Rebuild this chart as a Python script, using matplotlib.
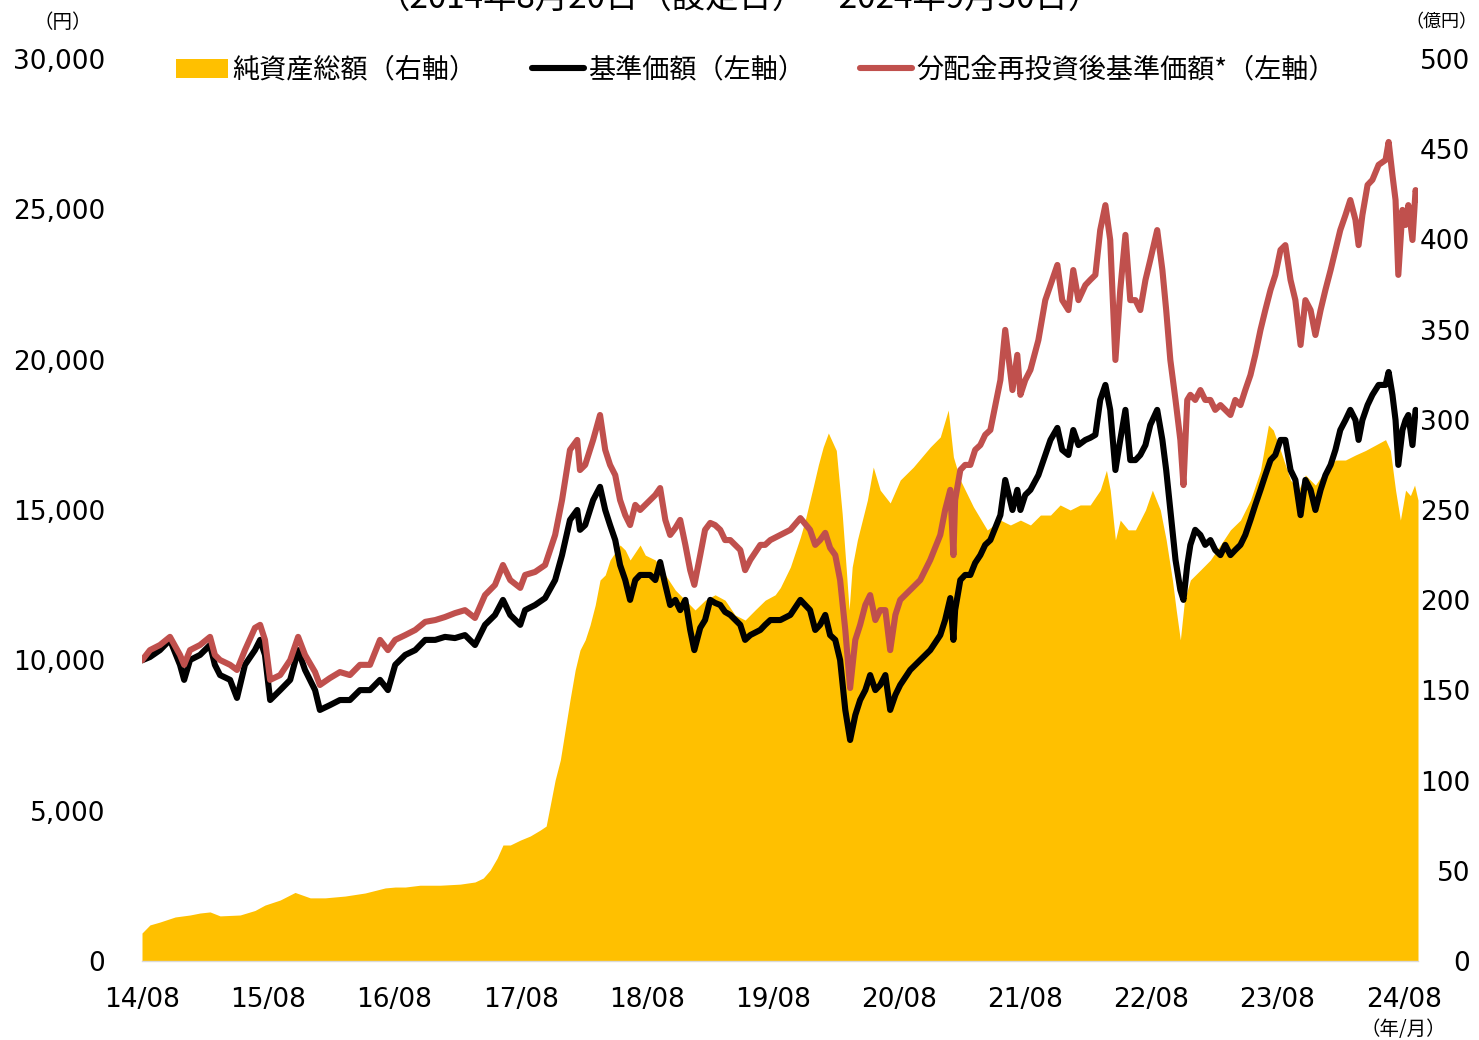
import matplotlib
matplotlib.use('Agg')
import matplotlib.pyplot as plt
from matplotlib.lines import Line2D
from matplotlib.patches import Patch
import pandas as pd

plt.rcParams['font.family'] = ['Noto Sans CJK JP', 'DejaVu Sans']

start = pd.Timestamp('2014-08-20')
end = pd.Timestamp('2024-09-30')

# 設定日からの経過日数（基準価額・分配金再投資後基準価額）
price_days = [
    0, 23, 52, 81, 110, 122, 139, 168, 197, 211,
    226, 255, 275, 298, 327, 342, 356, 371, 400, 429,
    452, 472, 501, 515, 544, 573, 602, 631, 660, 689,
    712, 733, 762, 791, 820, 849, 877, 906, 935, 964,
    993, 1022, 1045, 1066, 1095, 1109, 1138, 1167, 1196, 1216,
    1239, 1260, 1268, 1283, 1306, 1326, 1341, 1355, 1370, 1384,
    1399, 1413, 1428, 1442, 1471, 1486, 1500, 1515, 1529, 1544,
    1558, 1573, 1587, 1599, 1616, 1630, 1645, 1659, 1674, 1688,
    1703, 1732, 1746, 1761, 1790, 1804, 1819, 1848, 1877, 1906,
    1934, 1949, 1963, 1978, 1992, 2007, 2021, 2036, 2050, 2065,
    2079, 2094, 2108, 2123, 2137, 2152, 2166, 2181, 2195, 2224,
    2253, 2282, 2311, 2325, 2340, 2349, 2354, 2369, 2383, 2398,
    2412, 2427, 2441, 2456, 2485, 2499, 2520, 2534, 2543, 2557,
    2572, 2595, 2615, 2630, 2650, 2664, 2682, 2696, 2711, 2731,
    2745, 2760, 2774, 2789, 2803, 2818, 2832, 2847, 2861, 2876,
    2890, 2905, 2919, 2939, 2954, 2965, 2977, 2992, 3006, 3015,
    3026, 3035, 3049, 3064, 3078, 3093, 3107, 3122, 3136, 3151,
    3165, 3180, 3194, 3209, 3223, 3238, 3252, 3267, 3281, 3296,
    3310, 3325, 3339, 3354, 3368, 3383, 3397, 3412, 3426, 3441,
    3455, 3469, 3484, 3498, 3513, 3522, 3533, 3548, 3562, 3580,
    3600, 3609, 3620, 3629, 3637, 3649, 3658, 3666, 3678, 3687, 3694,
]

# 基準価額（円）
nav_price = [
    10000, 10110, 10340, 10680, 9850, 9350, 10010, 10180, 10510, 9850,
    9510, 9350, 8750, 9850, 10340, 10680, 10180, 8680, 9010, 9350,
    10340, 9680, 9010, 8350, 8510, 8680, 8680, 9010, 9010, 9350,
    9010, 9850, 10180, 10340, 10680, 10680, 10780, 10740, 10840, 10510,
    11180, 11510, 12010, 11510, 11180, 11670, 11840, 12070, 12670, 13500,
    14670, 15000, 14340, 14500, 15330, 15770, 15000, 14500, 14000, 13170,
    12670, 12010, 12670, 12840, 12840, 12670, 13270, 12510, 11840, 12010,
    11670, 12010, 11010, 10340, 11080, 11340, 12010, 11910, 11840, 11610,
    11510, 11180, 10680, 10840, 11010, 11180, 11340, 11340, 11510, 12010,
    11670, 11010, 11180, 11510, 10840, 10680, 10010, 8350, 7350, 8180,
    8680, 9010, 9510, 9010, 9180, 9510, 8350, 8850, 9180, 9680,
    10010, 10340, 10840, 11340, 12070, 10680, 11670, 12670, 12840, 12840,
    13240, 13500, 13840, 14000, 14830, 16000, 15000, 15670, 15000, 15500,
    15670, 16160, 16830, 17330, 17730, 17000, 16830, 17660, 17160, 17330,
    17400, 17500, 18660, 19160, 18330, 16330, 17330, 18330, 16660, 16660,
    16830, 17160, 17830, 18330, 17330, 16330, 15000, 13340, 12340, 12010,
    13170, 13840, 14340, 14170, 13840, 14000, 13670, 13500, 13840, 13500,
    13670, 13840, 14170, 14670, 15170, 15670, 16160, 16660, 16830, 17330,
    17330, 16330, 16000, 14830, 16000, 15670, 15000, 15670, 16160, 16500,
    17000, 17660, 17990, 18330, 17990, 17330, 17990, 18490, 18830, 19160,
    19160, 19590, 18830, 17990, 16500, 17660, 17990, 18160, 17160, 18330, 18160,
]

# 分配金再投資後基準価額（円）
reinvested = [
    10000, 10340, 10510, 10780, 10180, 9850, 10340, 10510, 10780, 10180,
    10010, 9850, 9680, 10340, 11080, 11180, 10680, 9350, 9510, 10010,
    10780, 10180, 9610, 9180, 9410, 9610, 9510, 9850, 9850, 10680,
    10340, 10680, 10840, 11010, 11280, 11340, 11440, 11570, 11670, 11410,
    12170, 12510, 13170, 12670, 12410, 12840, 12940, 13170, 14170, 15330,
    17000, 17330, 16330, 16500, 17330, 18160, 17000, 16500, 16160, 15330,
    14830, 14500, 15170, 15000, 15330, 15500, 15730, 14670, 14170, 14400,
    14670, 13840, 13000, 12510, 13500, 14340, 14570, 14500, 14340, 14000,
    14000, 13670, 13000, 13340, 13840, 13840, 14000, 14170, 14340, 14730,
    14340, 13840, 14000, 14240, 13740, 13500, 12670, 11010, 9080, 10680,
    11180, 11840, 12170, 11340, 11670, 11670, 10340, 11510, 12010, 12340,
    12670, 13340, 14170, 15000, 15670, 13500, 15330, 16330, 16500, 16500,
    17000, 17160, 17500, 17660, 19320, 20990, 18990, 20160, 18830, 19320,
    19660, 20650, 21980, 22480, 23150, 21980, 21650, 22980, 21980, 22480,
    22650, 22820, 24310, 25140, 23980, 19990, 22320, 24150, 21980, 21980,
    21650, 22650, 23320, 24310, 22980, 21650, 19990, 18660, 17330, 15830,
    18660, 18830, 18660, 18990, 18660, 18660, 18330, 18490, 18330, 18160,
    18660, 18490, 18990, 19490, 20160, 20990, 21650, 22320, 22820, 23650,
    23810, 22650, 21980, 20490, 21980, 21650, 20820, 21650, 22320, 22980,
    23650, 24310, 24810, 25310, 24650, 23810, 24810, 25810, 25980, 26480,
    26640, 27240, 26140, 25310, 22820, 24980, 24480, 25140, 23980, 25640, 25310,
]

# 純資産総額（億円）
asset_days = [
    0, 23, 52, 96, 139, 168, 197, 226, 284, 327,
    356, 400, 443, 487, 530, 588, 646, 704, 733, 762,
    805, 863, 921, 964, 988, 1008, 1028, 1045, 1066, 1095,
    1124, 1153, 1170, 1182, 1196, 1211, 1225, 1239, 1254, 1268,
    1283, 1297, 1312, 1326, 1341, 1355, 1384, 1399, 1413, 1442,
    1457, 1486, 1515, 1544, 1573, 1601, 1630, 1659, 1688, 1717,
    1746, 1775, 1804, 1833, 1848, 1877, 1906, 1920, 1943, 1958,
    1972, 1987, 2010, 2027, 2039, 2047, 2056, 2071, 2100, 2117,
    2137, 2166, 2195, 2233, 2282, 2311, 2334, 2349, 2369, 2407,
    2447, 2485, 2514, 2543, 2572, 2601, 2630, 2658, 2687, 2716,
    2745, 2774, 2792, 2803, 2818, 2832, 2855, 2876, 2905, 2925,
    2948, 2965, 2983, 2994, 3006, 3018, 3035, 3064, 3093, 3122,
    3151, 3180, 3209, 3238, 3261, 3275, 3296, 3325, 3348, 3368,
    3397, 3426, 3455, 3484, 3513, 3542, 3571, 3600, 3614, 3629,
    3643, 3658, 3672, 3684, 3694,
]
total_assets = [
    15.5, 20, 21.6, 24.4, 25.5, 26.6, 27.2, 25, 25.5, 28,
    31, 33.8, 38, 35, 35, 36, 37.7, 40.5, 41, 41,
    42, 42, 42.6, 43.8, 46, 50.4, 57, 64.3, 64.3, 67,
    69.3, 72.6, 74.8, 86.5, 100.3, 111.4, 128, 144.7, 161.3, 172.4,
    178, 186.2, 197.3, 211.2, 214, 222.3, 230.6, 227.8, 222.3, 230.6,
    225, 222.3, 214, 205.6, 200, 194.6, 200, 203, 200, 191.8,
    189, 194.6, 200, 203, 207, 218.4, 235, 244.4, 262.7, 275,
    284.9, 292.7, 283, 248, 216.7, 194.6, 218.4, 233.4, 255.5, 273.8,
    261, 253.9, 266.6, 273.8, 284.9, 290.5, 305.4, 279.4, 266.6, 251.7,
    238.9, 244.4, 241.7, 244.4, 241.7, 247.2, 247.2, 252.8, 250, 252.8,
    252.8, 261, 272, 261, 233.4, 244.4, 239, 239, 250, 261,
    250, 233.4, 211.2, 194.6, 178, 200, 211.2, 216.7, 222.3, 230.6,
    239, 244.4, 255.5, 272, 297.1, 294.3, 283, 266.6, 261, 269.4,
    263.8, 272, 277.7, 277.7, 280.5, 283, 286, 289, 283, 261,
    244.4, 261, 258, 263.8, 255.5,
]

x_labels = ['14/08', '15/08', '16/08', '17/08', '18/08', '19/08',
            '20/08', '21/08', '22/08', '23/08', '24/08']
left_ticks = [0, 5000, 10000, 15000, 20000, 25000, 30000]
right_ticks = [0, 50, 100, 150, 200, 250, 300, 350, 400, 450, 500]

price_dates = start + pd.to_timedelta(price_days, unit='D')
asset_dates = start + pd.to_timedelta(asset_days, unit='D')
tick_dates = [start + pd.DateOffset(years=i) for i in range(len(x_labels))]

YELLOW = '#FFC000'
RED = '#C0504D'

fig = plt.figure(figsize=(14.79, 10.40), dpi=100)
ax = fig.add_axes([142 / 1479, 79 / 1040, 1276 / 1479, 902 / 1040])
ax2 = ax.twinx()

# 純資産総額（右軸）を背面に
ax2.fill_between(asset_dates, total_assets, color=YELLOW, lw=0)
ax.set_zorder(ax2.get_zorder() + 1)
ax.patch.set_visible(False)

ax.plot(price_dates, nav_price, color='black', lw=4.4, solid_capstyle='round', solid_joinstyle='round')
ax.plot(price_dates, reinvested, color=RED, lw=4.4, solid_capstyle='round', solid_joinstyle='round')

ax.set_xlim(start, end)
ax.set_ylim(0, 30000)
ax2.set_ylim(0, 500)

ax.set_xticks(tick_dates, x_labels, fontsize=19, fontfamily='DejaVu Sans')
ax.set_yticks(left_ticks, [f'{v:,}' for v in left_ticks], fontsize=19, fontfamily='DejaVu Sans')
ax2.set_yticks(right_ticks, [str(v) for v in right_ticks], fontsize=19, fontfamily='DejaVu Sans')
for lbl in ax2.get_yticklabels():
    lbl.set_ha('right')

ax.tick_params(axis='x', length=0, pad=19)
ax.tick_params(axis='y', length=0, pad=26.6)
ax2.tick_params(axis='y', length=0, pad=37.4)

for a in (ax, ax2):
    for s in a.spines.values():
        s.set_visible(False)
ax.spines['bottom'].set_visible(True)
ax.spines['bottom'].set_color('#D9D9D9')
ax.spines['bottom'].set_linewidth(1)

handles = [
    Patch(facecolor=YELLOW, edgecolor='none'),
    Line2D([], [], color='black', lw=4.4, solid_capstyle='round'),
    Line2D([], [], color=RED, lw=4.4, solid_capstyle='round'),
]
labels = ['純資産総額（右軸）', '基準価額（左軸）', '分配金再投資後基準価額*（左軸）']
fig.legend(handles, labels, loc='center', bbox_to_anchor=(756 / 1479, 1 - 70 / 1040),
           ncol=3, frameon=False, fontsize=19.5, handlelength=1.92, handletextpad=0.15,
           columnspacing=2.05)

fig.text(0.5, 1 - 8 / 1040, '（2014年8月20日（設定日）～2024年9月30日）',
         ha='center', va='baseline', fontsize=24)
fig.text(63 / 1479, 1 - 22 / 1040, '（円）', ha='center', va='center', fontsize=14)
fig.text(1477 / 1479, 1 - 22 / 1040, '（億円）', ha='right', va='center', fontsize=13)
fig.text(1403 / 1479, 1 - 1029 / 1040, '（年/月）', ha='center', va='center', fontsize=14)

fig.savefig('out.png', dpi=100)
